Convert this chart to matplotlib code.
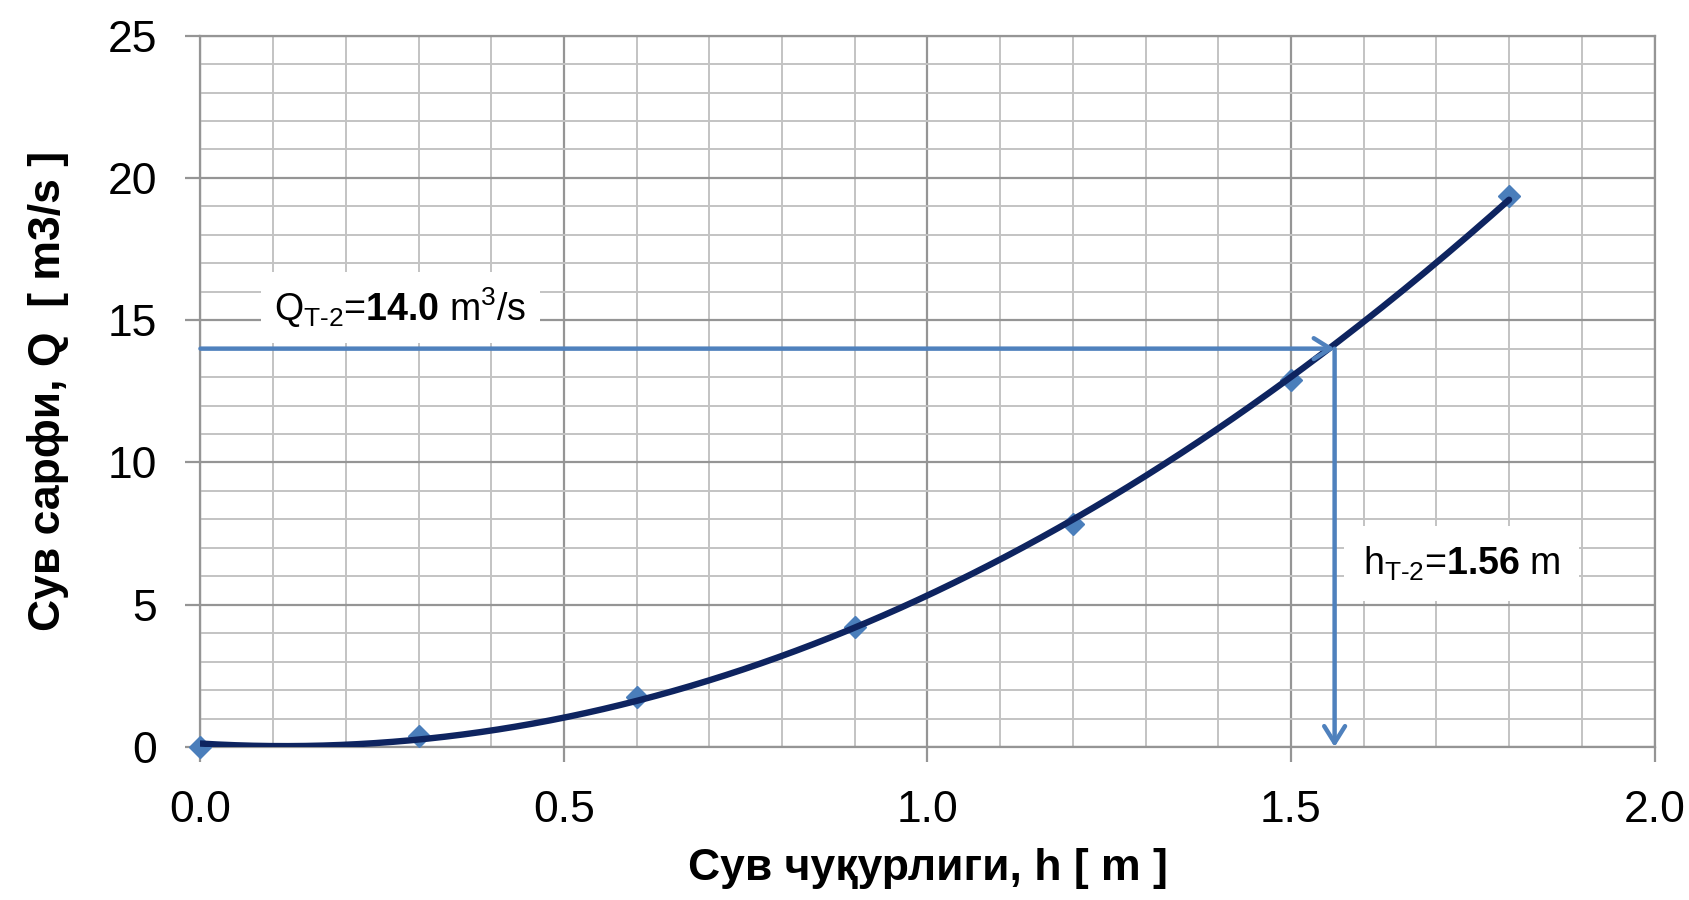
import numpy as np
import matplotlib
matplotlib.use("Agg")
import matplotlib.pyplot as plt
from matplotlib.ticker import MultipleLocator, FormatStrFormatter
from matplotlib import font_manager as fm

# ---- data ----
h_values = [0.0, 0.3, 0.6, 0.9, 1.2, 1.5, 1.8]
q_values = [0.0, 0.38, 1.75, 4.2, 7.85, 12.9, 19.35]
q_design = 14.0
h_design = 1.56
x_label = "Сув чуқурлиги, h [ m ]"
y_label = "Сув сарфи, Q  [ m3/s ]"

names = {f.name for f in fm.fontManager.ttflist}
narrow = "Liberation Sans Narrow" if "Liberation Sans Narrow" in names else "Liberation Sans"
FAM = [narrow, "DejaVu Sans"]
plt.rcParams["font.family"] = FAM
plt.rcParams["mathtext.fontset"] = "custom"
plt.rcParams["mathtext.rm"] = narrow
plt.rcParams["mathtext.it"] = narrow + ":italic"
plt.rcParams["mathtext.bf"] = narrow + ":bold"

fig = plt.figure(figsize=(16.9, 9), dpi=100)
ax = fig.add_axes([0.1186, 0.17, 0.979 - 0.1186, 0.9604 - 0.17])

ax.set_xlim(0, 2.0)
ax.set_ylim(0, 25)
ax.xaxis.set_major_locator(MultipleLocator(0.5))
ax.xaxis.set_minor_locator(MultipleLocator(0.1))
ax.yaxis.set_major_locator(MultipleLocator(5))
ax.yaxis.set_minor_locator(MultipleLocator(1))
ax.xaxis.set_major_formatter(FormatStrFormatter("%.1f"))

ax.grid(which="minor", color="#C3C3C3", linewidth=1.4, zorder=0)
ax.grid(which="major", color="#959595", linewidth=1.6, zorder=0)
ax.set_axisbelow(True)
for s in ax.spines.values():
    s.set_color("#959595")
    s.set_linewidth(1.6)

ax.tick_params(which="major", direction="out", length=11, width=1.6, color="#959595",
               labelsize=32, pad=20)
ax.tick_params(which="minor", length=0)

ax.set_xlabel(x_label, fontsize=32, fontweight="bold", labelpad=12)
ax.set_ylabel(y_label, fontsize=32, fontweight="bold", labelpad=28)

# data points
ax.plot(h_values, q_values, linestyle="none", marker="D", markersize=11,
        color="#4A7EBB", zorder=3, clip_on=False)

# polynomial trendline
coef = np.polyfit(h_values, q_values, 2)
xs = np.linspace(min(h_values), max(h_values), 300)
ax.plot(xs, np.polyval(coef, xs), color="#0E2460", linewidth=4.6, zorder=4,
        solid_capstyle="round")

# arrows
arrow_kw = dict(arrowstyle="->,head_length=1.2,head_width=0.75", color="#4F81BD",
                lw=3.2, shrinkA=0, shrinkB=0)
ax.annotate("", xy=(h_design, q_design), xytext=(0, q_design), arrowprops=arrow_kw,
            zorder=5, annotation_clip=False)
ax.annotate("", xy=(h_design, 0), xytext=(h_design, q_design), arrowprops=arrow_kw,
            zorder=5, annotation_clip=False)

HY = "\u2010"
q_text = (r"$\mathrm{Q}_{\mathrm{T" + HY + r"2}}$=$\mathbf{%.1f}$ m$^{3}$/s" % q_design)
h_text = (r"$\mathrm{h}_{\mathrm{T" + HY + r"2}}$=$\mathbf{%.2f}$ m" % h_design)
ax.text(0.275, 15.45, q_text, fontsize=27, ha="center", va="center",
        bbox=dict(boxstyle="square,pad=0.36", facecolor="white", edgecolor="none"), zorder=6)
ax.text(1.735, 6.45, h_text, fontsize=27, ha="center", va="center",
        bbox=dict(boxstyle="square,pad=0.5", facecolor="white", edgecolor="none"), zorder=6)

fig.savefig("out.png", dpi=100)
